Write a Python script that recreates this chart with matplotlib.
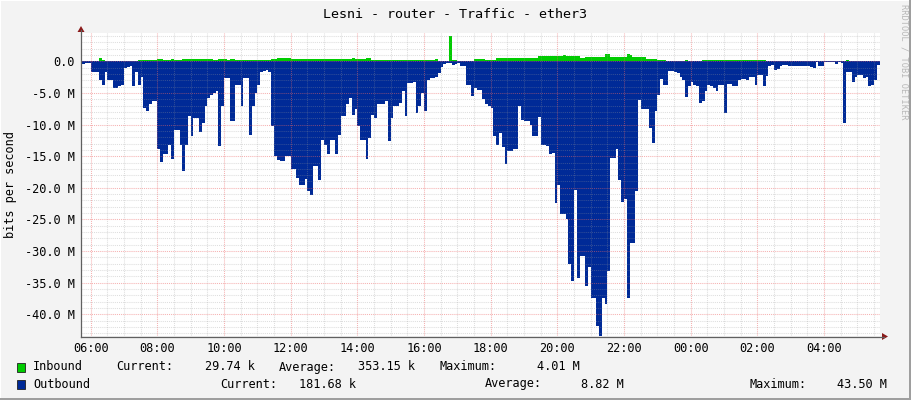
import numpy as np
import matplotlib
matplotlib.use("Agg")
import matplotlib.pyplot as plt
from matplotlib.patches import Rectangle, Polygon

# ---------------- data (values in Mbit/s, 5-minute steps starting 05:40) ----------------
title = "Lesni - router - Traffic - ether3"
x_tick_hours = [0, 2, 4, 6, 8, 10, 12, 14, 16, 18, 20, 22]   # hours after 06:00
x_tick_labels = ["06:00", "08:00", "10:00", "12:00", "14:00", "16:00",
                 "18:00", "20:00", "22:00", "00:00", "02:00", "04:00"]
y_ticks = [0, -5, -10, -15, -20, -25, -30, -35, -40]
y_tick_labels = ["0.0", "-5.0 M", "-10.0 M", "-15.0 M", "-20.0 M",
                 "-25.0 M", "-30.0 M", "-35.0 M", "-40.0 M"]
start_hour = -1 / 3      # 05:40 relative to 06:00
step_hours = 5 / 60

inbound = [
    0.02, 0.02, 0.02, 0.02,
    0.05, 0.05, 0.1, 0.6, 0.3, 0.05, 0.05, 0.05, 0.05, 0.05, 0.05, 0.05,
    0.05, 0.05, 0.05, 0.05, 0.05, 0.25, 0.2, 0.2, 0.2, 0.2, 0.2, 0.2,
    0.4, 0.4, 0.3, 0.3, 0.3, 0.4, 0.3, 0.3, 0.3, 0.45, 0.45, 0.35,
    0.35, 0.35, 0.35, 0.35, 0.35, 0.35, 0.35, 0.35, 0.25, 0.25, 0.35, 0.35,
    0.35, 0.25, 0.35, 0.35, 0.25, 0.25, 0.25, 0.25, 0.25, 0.25, 0.25, 0.25,
    0.25, 0.25, 0.25, 0.25, 0.25, 0.35, 0.35, 0.5, 0.5, 0.5, 0.5, 0.5,
    0.4, 0.4, 0.4, 0.4, 0.45, 0.45, 0.4, 0.4, 0.4, 0.4, 0.4, 0.4,
    0.45, 0.45, 0.35, 0.35, 0.35, 0.35, 0.35, 0.35, 0.35, 0.35, 0.5, 0.35,
    0.35, 0.35, 0.35, 0.5, 0.5, 0.25, 0.25, 0.25, 0.25, 0.25, 0.25, 0.25,
    0.25, 0.25, 0.25, 0.2, 0.2, 0.25, 0.25, 0.25, 0.25, 0.25, 0.25, 0.25,
    0.2, 0.15, 0.15, 0.15, 0.4, 0.1, 0.1, 0.1, 0.1, 4.01, 0.15, 0.15,
    0.02, 0.02, 0.1, 0.1, 0.1, 0.1, 0.35, 0.35, 0.35, 0.35, 0.3, 0.3,
    0.3, 0.3, 0.5, 0.5, 0.5, 0.5, 0.5, 0.5, 0.5, 0.5, 0.5, 0.5,
    0.6, 0.6, 0.6, 0.6, 0.6, 0.9, 0.9, 0.9, 0.9, 0.8, 0.8, 0.8,
    0.8, 0.8, 1.0, 0.9, 0.9, 0.9, 0.9, 0.9, 0.6, 0.6, 0.75, 0.75,
    0.75, 0.75, 0.75, 0.75, 0.75, 1.15, 1.15, 0.7, 0.7, 0.7, 0.7, 0.7,
    0.7, 1.15, 1.0, 0.7, 0.7, 0.75, 0.75, 0.75, 0.45, 0.45, 0.45, 0.45,
    0.25, 0.25, 0.3, 0.1, 0.1, 0.1, 0.1, 0.1, 0.1, 0.1, 0.25, 0.05,
    0.05, 0.05, 0.05, 0.05, 0.25, 0.25, 0.25, 0.25, 0.25, 0.25, 0.25, 0.25,
    0.25, 0.25, 0.25, 0.25, 0.25, 0.25, 0.25, 0.25, 0.25, 0.25, 0.25, 0.25,
    0.25, 0.25, 0.25, 0.05, 0.05, 0.05, 0.05, 0.05, 0.05, 0.05, 0.05, 0.05,
    0.05, 0.05, 0.05, 0.05, 0.05, 0.05, 0.05, 0.05, 0.05, 0.03, 0.03, 0.03,
    0.05, 0.05, 0.05, 0.05, 0.05, 0.05, 0.05, 0.1, 0.25, 0.05, 0.05, 0.05,
    0.05, 0.05, 0.05, 0.05, 0.05, 0.05, 0.05, 0.03,
]

outbound = [
    -0.4, -0.4, -0.3, -0.2,
    -1.6, -1.6, -1.6, -2.9, -3.8, -1.6, -2.9, -3.0, -4.2, -4.2, -3.9, -3.7,
    -1.0, -0.9, -0.7, -3.9, -1.7, -3.8, -2.5, -7.4, -7.9, -6.7, -6.3, -6.3,
    -13.9, -15.9, -14.6, -14.6, -13.2, -15.4, -10.8, -10.8, -13.3, -17.4, -13.3, -8.7,
    -11.8, -8.9, -8.9, -11.1, -9.7, -7.1, -5.8, -5.3, -5.0, -4.6, -13.4, -7.0,
    -2.6, -2.6, -9.5, -9.5, -3.7, -3.7, -7.0, -2.6, -2.6, -11.7, -7.0, -5.0,
    -3.7, -1.7, -1.5, -1.3, -1.6, -10.2, -14.9, -15.6, -15.8, -15.8, -14.9, -14.9,
    -17.1, -17.1, -18.4, -19.6, -19.6, -18.6, -20.5, -21.1, -16.5, -16.5, -18.7, -12.4,
    -13.2, -14.6, -12.4, -12.4, -14.7, -11.7, -8.7, -8.7, -6.7, -5.8, -8.4, -7.6,
    -10.2, -12.4, -12.4, -15.5, -12.1, -8.4, -8.9, -6.8, -6.7, -6.7, -6.3, -12.6,
    -8.9, -7.1, -7.1, -6.5, -4.7, -8.6, -3.4, -3.4, -3.3, -8.1, -7.0, -5.0,
    -7.9, -2.9, -2.6, -2.6, -2.4, -1.8, -0.9, -0.4, -0.3, -0.3, -0.6, -0.4,
    -0.3, -0.7, -0.7, -3.7, -3.7, -5.4, -4.2, -4.5, -4.5, -6.0, -6.7, -7.1,
    -7.4, -11.8, -13.2, -11.3, -13.5, -16.3, -14.2, -14.2, -13.8, -13.8, -7.1, -9.2,
    -9.5, -9.5, -10.0, -11.8, -11.8, -8.8, -13.2, -13.2, -13.4, -14.7, -14.5, -22.4,
    -19.5, -24.2, -24.2, -25.0, -32.1, -34.7, -20.3, -34.2, -30.8, -30.8, -35.5, -32.6,
    -37.4, -37.4, -41.8, -43.5, -37.4, -38.4, -33.2, -15.3, -15.3, -13.8, -18.7, -22.3,
    -21.8, -37.4, -28.7, -28.7, -20.5, -6.1, -7.5, -7.5, -7.6, -10.5, -12.9, -7.9,
    -5.3, -2.8, -3.7, -3.7, -1.5, -1.5, -1.7, -1.9, -2.4, -2.9, -5.6, -3.9,
    -3.2, -3.7, -3.9, -6.6, -6.3, -4.7, -3.7, -3.9, -4.2, -4.7, -3.8, -3.7,
    -8.2, -3.5, -3.5, -3.9, -3.9, -2.9, -2.8, -2.8, -2.9, -2.5, -2.5, -3.7,
    -2.1, -2.1, -3.9, -2.3, -0.7, -0.6, -1.4, -1.2, -0.8, -0.5, -0.5, -0.7,
    -0.7, -0.7, -0.7, -0.8, -0.8, -0.7, -0.7, -0.9, -1.1, -0.05, -0.8, -0.7,
    -0.1, -0.05, -0.05, -0.05, -0.4, -0.05, -0.2, -9.8, -1.6, -1.6, -3.2, -2.4,
    -2.1, -2.1, -2.6, -2.4, -3.9, -3.7, -2.9, -0.5,
]

legend_rows = [
    ("Inbound", "#00CC00", [("Current:", 116), ("29.74 k", 205), ("Average:", 279),
                            ("353.15 k", 358), ("Maximum:", 440), ("4.01 M", 537)]),
    ("Outbound", "#002A97", [("Current:", 220), ("181.68 k", 299), ("Average:", 485),
                             ("8.82 M", 581), ("Maximum:", 750), ("43.50 M", 837)]),
]

# ---------------- figure ----------------
W, H = 911, 400
MONO = "DejaVu Sans Mono"
fig = plt.figure(figsize=(W / 100, H / 100), dpi=100)
fig.patch.set_facecolor("#F3F3F3")

L, R, T, B = 81, 880, 33, 336
ax = fig.add_axes([L / W, 1 - B / H, (R - L) / W, (B - T) / H])
ax.set_facecolor("white")
px_per_hour = 33.33
ax.set_xlim((L - 90.7) / px_per_hour, (R - 90.7) / px_per_hour)
ax.set_ylim(-43.45, 4.5)

edges = start_hour + step_hours * np.arange(len(outbound) + 1)
ax.stairs(outbound, edges, baseline=0, fill=True, color="#002A97", lw=0, zorder=2)
ax.stairs(inbound, edges, baseline=0, fill=True, color="#00CC00", lw=0, zorder=2)

# grid (drawn above the areas, as RRDtool does)
minor_c = (0.6, 0.6, 0.6, 0.32)
major_c = (0.93, 0.4, 0.4, 0.5)
dots = (0, (1, 1))
xmin, xmax = ax.get_xlim()
for h in np.arange(0, 24, 0.5):
    if xmin < h < xmax:
        if h % 2 == 0:
            ax.axvline(h, color=major_c, lw=0.75, ls=dots, zorder=3)
        else:
            ax.axvline(h, color=minor_c, lw=0.75, ls=dots, zorder=3)
for v in range(-43, 5):
    if v % 5 == 0:
        ax.axhline(v, color=major_c, lw=0.75, ls=dots, zorder=3)
    else:
        ax.axhline(v, color=minor_c, lw=0.75, ls=dots, zorder=3)

for s in ax.spines.values():
    s.set_visible(False)
ax.set_yticks(y_ticks)
ax.set_yticklabels(y_tick_labels, family=MONO, fontsize=8.6)
ax.set_xticks(x_tick_hours)
ax.set_xticklabels(x_tick_labels, family=MONO, fontsize=8.6)
ax.tick_params(axis="y", length=0, pad=4.3)
ax.tick_params(axis="x", length=0, pad=4.0)

# overlay in pixel coordinates
ov = fig.add_axes([0, 0, 1, 1], zorder=5)
ov.set_xlim(0, W)
ov.set_ylim(H, 0)
ov.axis("off")
ov.patch.set_alpha(0)

axis_c = "#606060"
ov.plot([L, 884], [B + 0.5, B + 0.5], color=axis_c, lw=0.9)
ov.plot([L, L], [B + 0.5, 30], color=axis_c, lw=0.9)
ov.add_patch(Polygon([[882, B - 3], [882, B + 4], [888, B + 0.5]], closed=True,
                     color="#8B1A1A", lw=0))
ov.add_patch(Polygon([[L - 3.5, 32], [L + 3.5, 32], [L, 26]], closed=True,
                     color="#8B1A1A", lw=0))

# frame shading
ov.add_patch(Rectangle((W - 2, 0), 2, H, color="#9E9E9E", lw=0))
ov.add_patch(Rectangle((0, H - 2), W, 2, color="#9E9E9E", lw=0))
ov.add_patch(Rectangle((0, 0), W - 2, 1, color="#FFFFFF", lw=0))
ov.add_patch(Rectangle((0, 0), 1, H - 2, color="#FFFFFF", lw=0))

ov.text(455, 14, title, ha="center", va="center", family=MONO, fontsize=9.6, color="black")
ov.text(11, 185, "bits per second", rotation=90, ha="center", va="center",
        family=MONO, fontsize=8.6, color="black")
ov.text(904, 4, "RRDTOOL / TOBI OETIKER", rotation=270, ha="center", va="top",
        family=MONO, fontsize=6.2, color="#B8B8B8")

for i, (name, color, items) in enumerate(legend_rows):
    yc = 367 + 17 * i
    ov.add_patch(Rectangle((17, yc - 4.5), 8, 9, facecolor=color, edgecolor="#202020", lw=0.6))
    ov.text(33, yc, name, ha="left", va="center", family=MONO, fontsize=8.6)
    for txt, xp in items:
        ov.text(xp, yc, txt, ha="left", va="center", family=MONO, fontsize=8.6)

fig.savefig("out.png", dpi=100, facecolor=fig.get_facecolor())
